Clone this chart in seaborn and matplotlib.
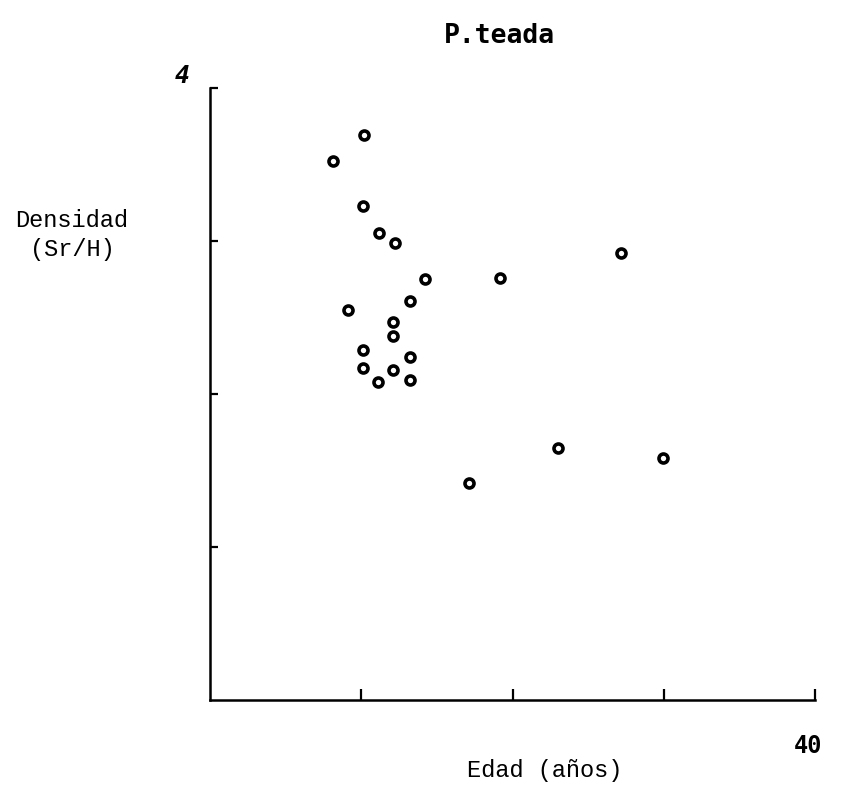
import matplotlib
matplotlib.use("Agg")
import matplotlib.pyplot as plt
import seaborn as sns
import pandas as pd

edad = [10.2, 8.1, 10.1, 11.2, 12.2, 14.2, 19.2, 27.2, 13.2, 9.1, 12.1, 12.1,
        10.1, 13.2, 10.1, 12.1, 11.1, 13.2, 23.0, 29.95, 17.1]
densidad = [3.69, 3.52, 3.23, 3.05, 2.99, 2.75, 2.76, 2.92, 2.61, 2.55, 2.47, 2.38,
            2.29, 2.24, 2.17, 2.16, 2.08, 2.09, 1.65, 1.58, 1.42]
x_ticks = [10, 20, 30, 40]
y_ticks = [1, 2, 3, 4]

df = pd.DataFrame({"edad": edad, "densidad": densidad})

sns.set_style("white")
fig = plt.figure(figsize=(8.51, 8.07), dpi=100)
ax = fig.add_axes([210 / 851, (807 - 700) / 807, (815 - 210) / 851, (700 - 88) / 807])

sns.scatterplot(data=df, x="edad", y="densidad", ax=ax, marker="o", s=42,
                facecolor="white", edgecolor="black", linewidth=2.6, zorder=3)

ax.set_xlim(0, 40)
ax.set_ylim(0, 4)
ax.set_xticks(x_ticks)
ax.set_yticks(y_ticks)
ax.set_xticklabels([])
ax.set_yticklabels([])
ax.tick_params(axis="x", direction="in", length=8, width=1.6, color="black",
               bottom=True)
ax.tick_params(axis="y", direction="in", length=6, width=1.6, color="black",
               left=True)
for s in ["top", "right"]:
    ax.spines[s].set_visible(False)
for s in ["left", "bottom"]:
    ax.spines[s].set_color("black")
    ax.spines[s].set_linewidth(1.8)
ax.set_xlabel("")
ax.set_ylabel("")

mono = "DejaVu Sans Mono"
serif_mono = "Liberation Mono"
fig.text(499 / 851, 1 - 36 / 807, "P.teada", ha="center", va="center",
         fontsize=19, family=mono, fontweight="bold", color="black")
fig.text(72 / 851, 1 - 235 / 807, "Densidad\n(Sr/H)", ha="center", va="center",
         fontsize=17, family=serif_mono, linespacing=1.3, color="black")
fig.text(545 / 851, 1 - 770 / 807, "Edad (años)", ha="center", va="center",
         fontsize=17, family=serif_mono, color="black")
fig.text(182 / 851, 1 - 76 / 807, "4", ha="center", va="center",
         fontsize=18, family=mono, fontweight="bold", style="italic", color="black")
fig.text(808 / 851, 1 - 746 / 807, "40", ha="center", va="center",
         fontsize=17, family=mono, fontweight="bold", color="black")

fig.savefig("out.png", dpi=100)
